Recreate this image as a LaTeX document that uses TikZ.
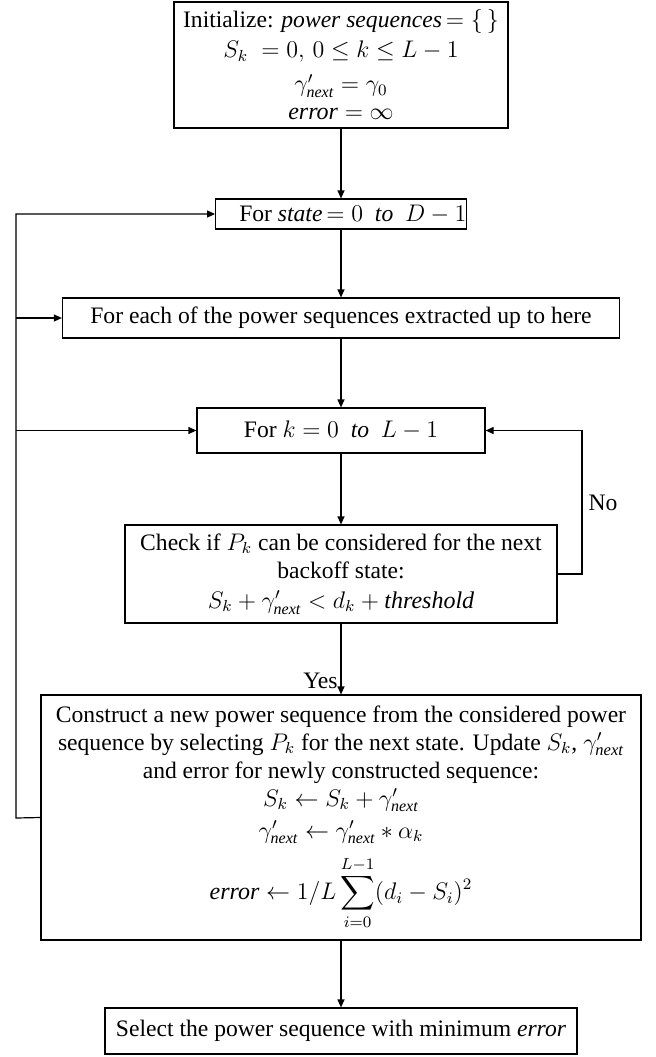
\documentclass[tikz,border=0pt]{standalone}
\usepackage{amsmath}
\usepackage[no-math]{fontspec}
\setmainfont{Liberation Serif}
\usetikzlibrary{arrows.meta}
\newcommand{\nxt}{\textit{next}}
\begin{document}
\begin{tikzpicture}[x=0.5pt, y=-0.5pt,
  stepbox/.style={draw, line width=0.6pt, align=center, inner sep=0pt},
  flow/.style={-{Triangle[length=4pt,width=3.5pt]}, line width=0.6pt},
  font=\fontsize{11.8}{14}\selectfont]
\useasboundingbox (0,0) rectangle (655,1057);
\node[stepbox, minimum width=167pt, minimum height=63pt] (init) at (341,65)
  {Initialize: \textit{power sequences}\,$=\{\,\}$\\[1pt]
   {\large $S_k\;=0,\,0\le k\le L-1$}\\[3pt]
   {\large $\gamma'_{\nxt}=\gamma_0$}\\
   {\large $\textit{error}=\infty$}};
\node[stepbox, minimum width=120.5pt, minimum height=15pt] (state) at (341,214)
  {\quad For \textit{state}\,$=0$\ \ \textit{to}\ \ $D-1$};
\node[stepbox, minimum width=278.5pt, minimum height=20pt] (each) at (341,318)
  {For each of the power sequences extracted up to here};
\node[stepbox, minimum width=144pt, minimum height=22.5pt] (kloop) at (341,430.5)
  {For $k=0$\ \ \textit{to}\ \ $L-1$};
\node[stepbox, minimum width=216pt, minimum height=49pt] (check) at (341,574)
  {Check if {\large $P_k$} can be considered for the next\\
   backoff state:\\[1pt]
   {\large $S_k+\gamma'_{\nxt}<d_k+\textit{threshold}$}};
\node[stepbox, minimum width=300pt, minimum height=122.5pt] (build) at (341,817.5)
  {Construct a new power sequence from the considered power\\
   sequence by selecting {\large $P_k$} for the next state. Update {\large $S_k$}, $\gamma'_{\nxt}$\\
   and error for newly constructed sequence:\\
   {\large $S_k\leftarrow S_k+\gamma'_{\nxt}$}\\[2pt]
   {\large $\gamma'_{\nxt}\leftarrow\gamma'_{\nxt}*\alpha_k$}\\[5pt]
   {\large $\textit{error}\leftarrow 1/L\displaystyle\sum_{i=0}^{L-1}(d_i-S_i)^2$}};
\node[stepbox, minimum width=236pt, minimum height=23pt] (pick) at (341,1031)
  {Select the power sequence with minimum \textit{error}};
\node (no) at (603,503) {No};
\node[anchor=east, inner sep=1pt] (yes) at (340,681) {Yes};
\coordinate (loopL) at (16,818);
\coordinate (loopR) at (582,500);
\draw[flow] (init) -- (state);
\draw[flow] (state) -- (each);
\draw[flow] (each) -- (kloop);
\draw[flow] (kloop) -- (check);
\draw[flow] (check) -- (build);
\draw[flow] (build) -- (pick);
\draw[flow] (check.east) -- (check.east -| loopR) |- (kloop.east);
\draw[flow] (build.west) -- (loopL) |- (state.west);
\draw[flow] (loopL |- each.west) -- (each.west);
\draw[flow] (loopL |- kloop.west) -- (kloop.west);
\end{tikzpicture}
\end{document}
